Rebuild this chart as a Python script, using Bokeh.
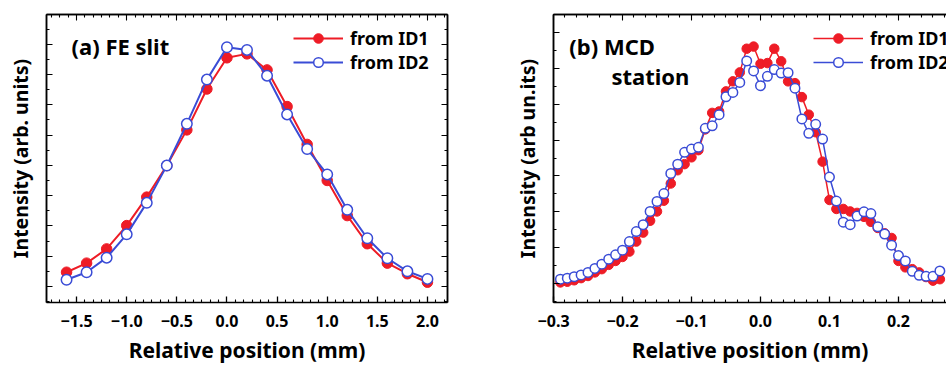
import numpy as np
from bokeh.plotting import figure
from bokeh.layouts import row
from bokeh.models import FixedTicker, LinearAxis, Range1d, Legend, LegendItem, Label
from bokeh.embed import file_html
from bokeh.resources import INLINE

# ---------------- data ----------------
# Panel (a) FE slit
pos_a = [-1.6, -1.4, -1.2, -1.0, -0.8, -0.6, -0.4, -0.2, 0.0, 0.2, 0.4, 0.6,
         0.8, 1.0, 1.2, 1.4, 1.6, 1.8, 2.0]
id1_a = [0.47, 0.77, 1.24, 2.01, 2.95, 3.99, 5.17, 6.52, 7.55, 7.68, 7.15, 5.94,
         4.69, 3.50, 2.34, 1.41, 0.77, 0.42, 0.14]
id2_a = [0.22, 0.47, 0.95, 1.72, 2.76, 3.99, 5.37, 6.83, 7.90, 7.81, 6.96, 5.68,
         4.54, 3.70, 2.53, 1.59, 0.93, 0.50, 0.25]

# Panel (b) MCD station
pos_b = [-0.29, -0.28, -0.27, -0.26, -0.25, -0.24, -0.23, -0.22, -0.21, -0.20,
         -0.19, -0.18, -0.17, -0.16, -0.15, -0.14, -0.13, -0.12, -0.11, -0.10,
         -0.09, -0.08, -0.07, -0.06, -0.05, -0.04, -0.03, -0.02, -0.01, 0.00,
         0.01, 0.02, 0.03, 0.04, 0.05, 0.06, 0.07, 0.08, 0.09, 0.10,
         0.11, 0.12, 0.13, 0.14, 0.15, 0.16, 0.17, 0.18, 0.19, 0.20,
         0.21, 0.22, 0.23, 0.24, 0.25, 0.26]
id1_b = [0.03, 0.05, 0.09, 0.15, 0.21, 0.31, 0.40, 0.52, 0.63, 0.74,
         0.89, 1.17, 1.42, 1.75, 2.01, 2.31, 2.79, 3.16, 3.33, 3.52,
         3.72, 4.30, 4.76, 4.80, 5.36, 5.64, 5.89, 6.55, 6.61, 6.13,
         6.15, 6.55, 6.20, 5.64, 5.59, 5.20, 4.71, 4.22, 3.40, 2.33,
         2.08, 2.08, 2.01, 1.97, 1.86, 1.72, 1.55, 1.40, 1.27, 0.63,
         0.45, 0.40, 0.31, 0.18, 0.08, 0.12]
id2_b = [0.12, 0.15, 0.19, 0.24, 0.31, 0.42, 0.54, 0.68, 0.80, 0.93,
         1.17, 1.45, 1.64, 2.01, 2.29, 2.51, 3.07, 3.33, 3.66, 3.75,
         3.80, 4.33, 4.40, 4.71, 5.21, 5.33, 5.61, 6.21, 5.93, 5.52,
         5.78, 5.97, 5.87, 5.88, 5.45, 4.59, 4.19, 4.44, 4.03, 2.97,
         2.30, 1.71, 1.64, 1.88, 2.00, 1.95, 1.58, 1.38, 1.07, 0.78,
         0.63, 0.34, 0.23, 0.20, 0.20, 0.35]

xticks_a = [-1.5, -1.0, -0.5, 0.0, 0.5, 1.0, 1.5, 2.0]
xlabels_a = ["\u22121.5", "\u22121.0", "\u22120.5", "0.0", "0.5", "1.0", "1.5", "2.0"]
xticks_b = [-0.3, -0.2, -0.1, 0.0, 0.1, 0.2, 0.3]
xlabels_b = ["\u22120.3", "\u22120.2", "\u22120.1", "0.0", "0.1", "0.2", "0.3"]
yticks_a = [0, 1, 2, 3, 4, 5, 6, 7, 8]
yticks_b = [0, 1, 2, 3, 4, 5, 6, 7]

series_names = ["from ID1", "from ID2"]
x_title = "Relative position (mm)"
y_title_a = "Intensity (arb. units)"
y_title_b = "Intensity (arb un.its)"
note_a = "(a) FE slit"
note_b = ["(b) MCD", "station"]

# ---------------- style ----------------
RED = "#ee1c26"
BLUE = "#3a4cd6"
FONT = "Noto Sans"
H = 367


def minor_list(majors, n):
    d = majors[1] - majors[0]
    step = d / n
    vals = np.arange(majors[0] - 2 * d, majors[-1] + 2 * d + step / 2, step)
    grid = np.arange(majors[0] - 2 * d, majors[-1] + 2.5 * d, d)
    return [float(v) for v in vals if min(abs(v - m) for m in grid) > step / 4]


def base_axis(ax):
    ax.axis_line_color = "black"
    ax.axis_line_width = 1.5
    ax.major_tick_line_color = "black"
    ax.minor_tick_line_color = "black"
    ax.major_tick_line_width = 1.3
    ax.minor_tick_line_width = 1.1
    ax.major_tick_out = 0
    ax.minor_tick_out = 0
    ax.major_label_standoff = 0
    ax.axis_label_standoff = 0


def tick_pair(p, side, majors, minors, title=None):
    """Unlabelled ticks: long ticks at majors, short ticks at minors."""
    a1 = LinearAxis(ticker=FixedTicker(ticks=[], minor_ticks=[float(m) for m in majors]))
    base_axis(a1)
    a1.minor_tick_in = 6
    a1.major_tick_in = 0
    a2 = LinearAxis(ticker=FixedTicker(ticks=[], minor_ticks=minors))
    base_axis(a2)
    a2.minor_tick_in = 3
    a2.major_tick_in = 0
    if title is not None:
        a2.axis_label = title
        a2.axis_label_text_font = FONT
        a2.axis_label_text_font_style = "bold"
        a2.axis_label_text_font_size = "19.5px"
        a2.axis_label_text_color = "black"
        a2.axis_label_standoff = 13
    p.add_layout(a1, side)
    p.add_layout(a2, side)


def make_panel(width, left, right, xr, yr, xticks, xlabels, ymaj, ytitle,
               xs, y1, y2, msize, lw, legend_loc):
    p = figure(width=width, height=H, x_range=Range1d(*xr), y_range=Range1d(*yr),
               output_backend="svg", toolbar_location=None, y_axis_location=None,
               min_border_left=left, min_border_right=right,
               min_border_top=14, min_border_bottom=65)
    p.grid.visible = False
    p.outline_line_color = None

    xminor = minor_list(xticks, 6)
    yminor = minor_list(ymaj, 2)

    xb = p.xaxis[0]
    xb.ticker = FixedTicker(ticks=xticks, minor_ticks=xminor)
    xb.major_label_overrides = {t: l for t, l in zip(xticks, xlabels)}
    base_axis(xb)
    xb.major_tick_in = 6
    xb.minor_tick_in = 3
    xb.major_label_text_font = FONT
    xb.major_label_text_font_style = "bold"
    xb.major_label_text_font_size = "16px"
    xb.major_label_text_line_height = 1.0
    xb.major_label_text_color = "black"
    xb.major_label_standoff = 12
    xb.axis_label = x_title
    xb.axis_label_text_font = FONT
    xb.axis_label_text_font_style = "bold"
    xb.axis_label_text_font_size = "21px"
    xb.axis_label_text_line_height = 1.0
    xb.axis_label_text_color = "black"
    xb.axis_label_standoff = 6

    tick_pair(p, "left", ymaj, yminor, ytitle)
    tick_pair(p, "above", xticks, xminor)

    r1l = p.line(xs, y1, line_color=RED, line_width=lw)
    r1m = p.scatter(xs, y1, size=msize, fill_color=RED, line_color=RED, line_width=1)
    r2l = p.line(xs, y2, line_color=BLUE, line_width=lw)
    r2m = p.scatter(xs, y2, size=msize, fill_color="white", line_color=BLUE, line_width=1.5)

    leg = Legend(items=[LegendItem(label=series_names[0], renderers=[r1l, r1m]),
                        LegendItem(label=series_names[1], renderers=[r2l, r2m])],
                 location=legend_loc, border_line_color=None,
                 background_fill_alpha=0, padding=0, spacing=0, margin=0,
                 glyph_width=50, glyph_height=24, label_height=24,
                 label_standoff=7, label_text_font=FONT, label_text_font_style="bold",
                 label_text_font_size="18px", label_text_color="black")
    p.add_layout(leg, "center")
    return p, ymaj, yminor


def note(p, x, y, text):
    p.add_layout(Label(x=x, y=y, text=text, text_font=FONT, text_font_style="bold",
                       text_font_size="22px", text_baseline="middle",
                       text_align="left", text_color="black"))


# Panel (a)
pa, ma, mi = make_panel(475, 46, 28, (-1.8, 2.2), (-0.53, 8.98), xticks_a, xlabels_a,
                        yticks_a, y_title_a, pos_a, id1_a, id2_a, 10.5, 2.0, (247, 228))
tick_pair(pa, "right", ma, mi)
note(pa, -1.55, 7.95, note_a)

# Panel (b)
pb, _, _ = make_panel(471, 78, 0, (-0.3, 0.2696), (-0.53, 7.505), xticks_b, xlabels_b,
                      yticks_b, y_title_b, pos_b, id1_b, id2_b, 9.5, 1.5, (260, 228))
note(pb, -0.277, 6.64, note_b[0])
note(pb, -0.216, 5.80, note_b[1])

layout = row(pa, pb, spacing=0)
open("out.html", "w").write(file_html(layout, INLINE))
